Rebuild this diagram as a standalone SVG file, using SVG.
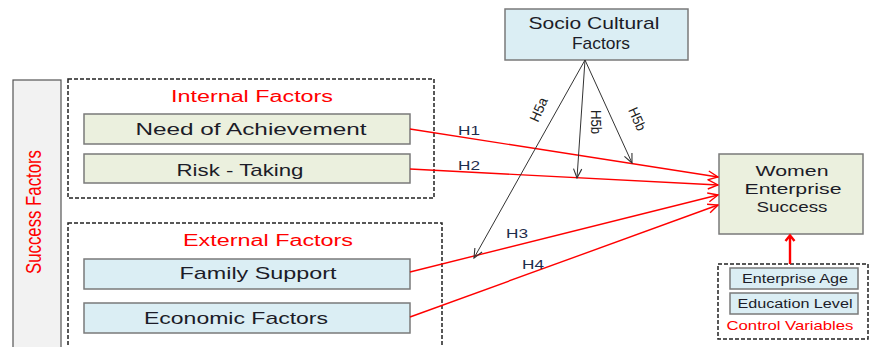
<svg xmlns="http://www.w3.org/2000/svg" width="869" height="347" viewBox="0 0 869 347">
  <defs>
    <marker id="arrRed" viewBox="0 0 12 12" refX="11" refY="6" markerWidth="12" markerHeight="12" markerUnits="userSpaceOnUse" orient="auto">
      <path d="M1,1.5 L11,6 L1,10.5" fill="none" stroke="#ff0000" stroke-width="1.4"/>
    </marker>
    <marker id="arrBlack" viewBox="0 0 12 12" refX="11" refY="6" markerWidth="11" markerHeight="11" markerUnits="userSpaceOnUse" orient="auto">
      <path d="M1,1.5 L11,6 L1,10.5" fill="none" stroke="#333333" stroke-width="1.2"/>
    </marker>
    <marker id="arrThick" viewBox="0 0 12 12" refX="6" refY="3" markerWidth="12" markerHeight="12" markerUnits="userSpaceOnUse" orient="0">
      <path d="M1.5,8 L6,2.5 L10.5,8" fill="none" stroke="#ff0000" stroke-width="2.4"/>
    </marker>
  </defs>
  <style>
    text { font-family: "Liberation Sans", Arial, sans-serif; }
    .dash { fill: #ffffff; stroke: #222222; stroke-width: 1.5; stroke-dasharray: 4 2; }
    .olive { fill: #ebf0de; stroke: #7a7a7a; stroke-width: 1.5; }
    .blue { fill: #dbeef4; stroke: #7a7a7a; stroke-width: 1.5; }
    .lbl { font-size: 17px; fill: #1c1c28; text-anchor: middle; }
    .ml { font-size: 15.5px; fill: #1c1c28; text-anchor: middle; }
    .small { font-size: 12px; fill: #1c1c28; text-anchor: middle; }
    .title { font-size: 16px; fill: #ff0000; text-anchor: middle; }
    .hyp { font-size: 13px; fill: #1f2d4d; }
    .hyp5 { font-size: 14px; fill: #222222; }
    .red { stroke: #ff0000; stroke-width: 1.4; fill: none; marker-end: url(#arrRed); }
    .blk { stroke: #333333; stroke-width: 1; fill: none; marker-end: url(#arrBlack); }
  </style>
  <rect width="869" height="347" fill="#ffffff"/>

  <!-- vertical side bar -->
  <g id="success-factors">
    <rect x="13" y="80" width="48" height="280" fill="#f2f2f2" stroke="#555555" stroke-width="1.2"/>
    <text transform="translate(41,212) rotate(-90)" font-size="22" fill="#ff0000" text-anchor="middle" textLength="124" lengthAdjust="spacingAndGlyphs">Success Factors</text>
  </g>

  <!-- internal factors group -->
  <g id="internal-factors">
    <rect class="dash" x="68" y="79" width="366" height="119"/>
    <text class="title" x="252" y="102" textLength="162" lengthAdjust="spacingAndGlyphs">Internal Factors</text>
  </g>
  <g id="need-achievement">
    <rect class="olive" x="84" y="114" width="326" height="30"/>
    <text class="lbl" x="251" y="135" textLength="231" lengthAdjust="spacingAndGlyphs">Need of Achievement</text>
  </g>
  <g id="risk-taking">
    <rect class="olive" x="84" y="154" width="326" height="29"/>
    <text class="lbl" x="240" y="176" textLength="127" lengthAdjust="spacingAndGlyphs">Risk - Taking</text>
  </g>

  <!-- external factors group -->
  <g id="external-factors">
    <rect class="dash" x="68" y="223" width="374" height="140"/>
    <text class="title" x="268" y="246" textLength="170" lengthAdjust="spacingAndGlyphs">External Factors</text>
  </g>
  <g id="family-support">
    <rect class="blue" x="84" y="259" width="326" height="30"/>
    <text class="lbl" x="258" y="279" textLength="157" lengthAdjust="spacingAndGlyphs">Family Support</text>
  </g>
  <g id="economic-factors">
    <rect class="blue" x="84" y="303" width="326" height="30"/>
    <text class="lbl" x="236" y="324" textLength="184" lengthAdjust="spacingAndGlyphs">Economic Factors</text>
  </g>

  <!-- moderator -->
  <g id="socio-cultural">
    <rect class="blue" x="505" y="9" width="183" height="51"/>
    <text class="lbl" x="594" y="29" textLength="131" lengthAdjust="spacingAndGlyphs">Socio Cultural</text>
    <text class="lbl" x="601" y="49" textLength="58" lengthAdjust="spacingAndGlyphs">Factors</text>
  </g>

  <!-- outcome -->
  <g id="women-enterprise-success">
    <rect class="olive" x="719" y="154" width="144" height="80"/>
    <text class="ml" x="792" y="176" textLength="73" lengthAdjust="spacingAndGlyphs">Women</text>
    <text class="ml" x="793" y="194" textLength="97" lengthAdjust="spacingAndGlyphs">Enterprise</text>
    <text class="ml" x="792" y="212" textLength="71" lengthAdjust="spacingAndGlyphs">Success</text>
  </g>

  <!-- control variables -->
  <g id="control-variables">
    <rect class="dash" x="718" y="264" width="150" height="75"/>
    <rect class="blue" x="730" y="268" width="128" height="21"/>
    <text class="small" x="795" y="283" textLength="106" lengthAdjust="spacingAndGlyphs">Enterprise Age</text>
    <rect class="blue" x="730" y="293" width="128" height="21"/>
    <text class="small" x="795" y="308" textLength="115" lengthAdjust="spacingAndGlyphs">Education Level</text>
    <text x="790" y="330" font-size="13" fill="#ff0000" text-anchor="middle" textLength="127" lengthAdjust="spacingAndGlyphs">Control Variables</text>
  </g>

  <!-- connectors -->
  <g id="connectors">
    <line class="red" x1="410" y1="129" x2="718" y2="177"/>
    <line class="red" x1="410" y1="169" x2="718" y2="185"/>
    <line class="red" x1="410" y1="272" x2="718" y2="195"/>
    <line class="red" x1="410" y1="317" x2="718" y2="205"/>
    <line x1="790" y1="264" x2="790" y2="236" stroke="#ff0000" stroke-width="2.4" marker-end="url(#arrThick)"/>

    <line class="blk" x1="585" y1="60" x2="474" y2="258"/>
    <line class="blk" x1="585" y1="60" x2="577" y2="178"/>
    <line class="blk" x1="585" y1="60" x2="632" y2="163"/>

    <text class="hyp" x="458" y="135" textLength="22" lengthAdjust="spacingAndGlyphs">H1</text>
    <text class="hyp" x="458" y="170" textLength="22" lengthAdjust="spacingAndGlyphs">H2</text>
    <text class="hyp" x="506" y="238" textLength="22" lengthAdjust="spacingAndGlyphs">H3</text>
    <text class="hyp" x="522" y="269" textLength="22" lengthAdjust="spacingAndGlyphs">H4</text>
    <text class="hyp5" transform="translate(538,123) rotate(-66)" textLength="25" lengthAdjust="spacingAndGlyphs">H5a</text>
    <text class="hyp5" transform="translate(591,110) rotate(90)" textLength="24" lengthAdjust="spacingAndGlyphs">H5b</text>
    <text class="hyp5" transform="translate(628,110) rotate(66)" textLength="24" lengthAdjust="spacingAndGlyphs">H5b</text>
  </g>
</svg>
